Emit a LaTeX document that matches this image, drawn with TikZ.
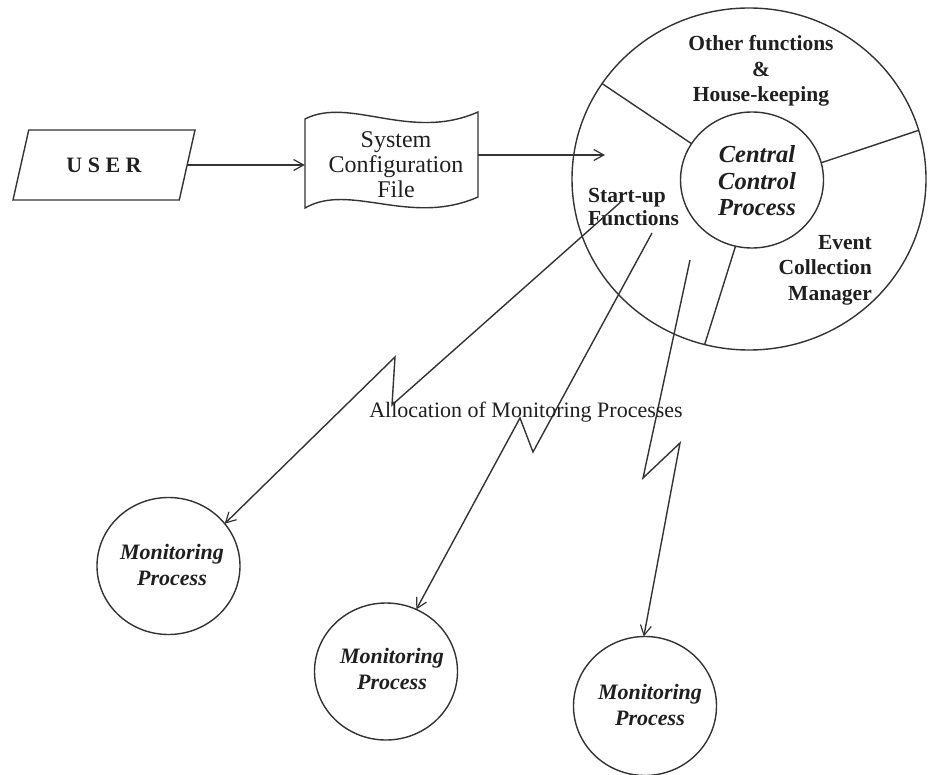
\documentclass[tikz,border=0pt]{standalone}
\usepackage{fontspec}
\setmainfont{Liberation Serif}
\usetikzlibrary{arrows.meta,shapes.geometric}

\begin{document}
\begin{tikzpicture}[x=1pt,y=-1pt,
  ink/.style={line width=1.4pt, draw=black!80},
  arr/.style={ink, -{Straight Barb[length=10pt,width=11pt,line width=1.2pt]}},
  bubble/.style={ink, ellipse, inner sep=0pt, outer sep=0pt},
  mproc/.style={bubble, minimum width=143pt, minimum height=137pt},
  btext/.style={text=black!88, inner sep=0pt, align=center,
                font=\fontsize{21.5}{25.5}\selectfont\bfseries},
  itext/.style={text=black!88, inner sep=0pt, align=center,
                font=\fontsize{22}{26}\selectfont\bfseries\itshape},
  rtext/.style={text=black!88, inner sep=0pt, align=center,
                font=\fontsize{24}{25}\selectfont},
]
\useasboundingbox (0,0) rectangle (928,775);

% user input
\node[ink, trapezium, trapezium left angle=62, trapezium right angle=118,
      trapezium stretches=true, minimum width=182pt, minimum height=70pt,
      inner sep=0pt, outer sep=0pt, text=black!88,
      font=\fontsize{22}{26}\selectfont\bfseries] (user) at (104,165) {U S E R};

% configuration file (tape outline)
\node[minimum width=173pt, minimum height=90pt, inner sep=0pt] (file) at (391.5,158) {};
\draw[ink] (305,119) .. controls (350,96) and (410,142) .. (478,112)
           -- (478,197) .. controls (410,227) and (350,182) .. (305,208) -- cycle;
\node[rtext] (filetxt) at (396,165) {System\\Configuration\\File};

% central control process
\node[bubble, minimum width=354pt, minimum height=342pt] (ccp) at (749,179) {};
\node[bubble, minimum width=143pt, minimum height=136pt] (core) at (752,180) {};
\node[itext, font=\fontsize{24.5}{26.5}\selectfont\bfseries\itshape] (coretxt) at (757,181)
     {Central\\Control\\Process};
\draw[ink] (ccp.147.5) -- (core.149.5);
\draw[ink] (core.14) -- (ccp.16.5);
\draw[ink] (core.256.7) -- (ccp.255.6);

\node[btext] (house) at (761,71) {Other functions\\\&\\House-keeping};
\node[btext, align=left, anchor=west, font=\fontsize{21.5}{23.5}\selectfont\bfseries]
     (startup) at (588,207) {Start-up\\Functions};
\node[btext, align=right, anchor=east] (events) at (872,270) {Event\\Collection\\Manager};

% input arrows
\draw[arr] (user.east) -- (user.east -| file.west);
\coordinate (cfgtip) at (605,155);
\draw[arr] (cfgtip -| file.east) -- (cfgtip);

% monitoring processes
\node[mproc] (m1) at (168.5,566) {};
\node[mproc] (m2) at (386,671.5) {};
\node[mproc, minimum height=139pt] (m3) at (645,706) {};
\node[itext] (m1txt) at (172,565) {Monitoring\\Process};
\node[itext] (m2txt) at (392,668.5) {Monitoring\\Process};
\node[itext] (m3txt) at (650,704.5) {Monitoring\\Process};

% allocation links
\coordinate (s1) at (623,200);
\coordinate (z1a) at (392,405);
\coordinate (z1b) at (395,357);
\coordinate (s2) at (652,233);
\coordinate (z2a) at (533,452);
\coordinate (z2b) at (520,418);
\coordinate (s3) at (690,260);
\coordinate (z3a) at (643,478);
\coordinate (z3b) at (680,443);
\draw[arr] (s1) -- (z1a) -- (z1b) -- (m1.37);
\draw[arr] (s2) -- (z2a) -- (z2b) -- (m2.64);
\draw[arr] (s3) -- (z3a) -- (z3b) -- (m3.91);

\node[rtext, font=\fontsize{22}{26}\selectfont] (alloc) at (526,412)
     {Allocation of Monitoring Processes};
\end{tikzpicture}
\end{document}
